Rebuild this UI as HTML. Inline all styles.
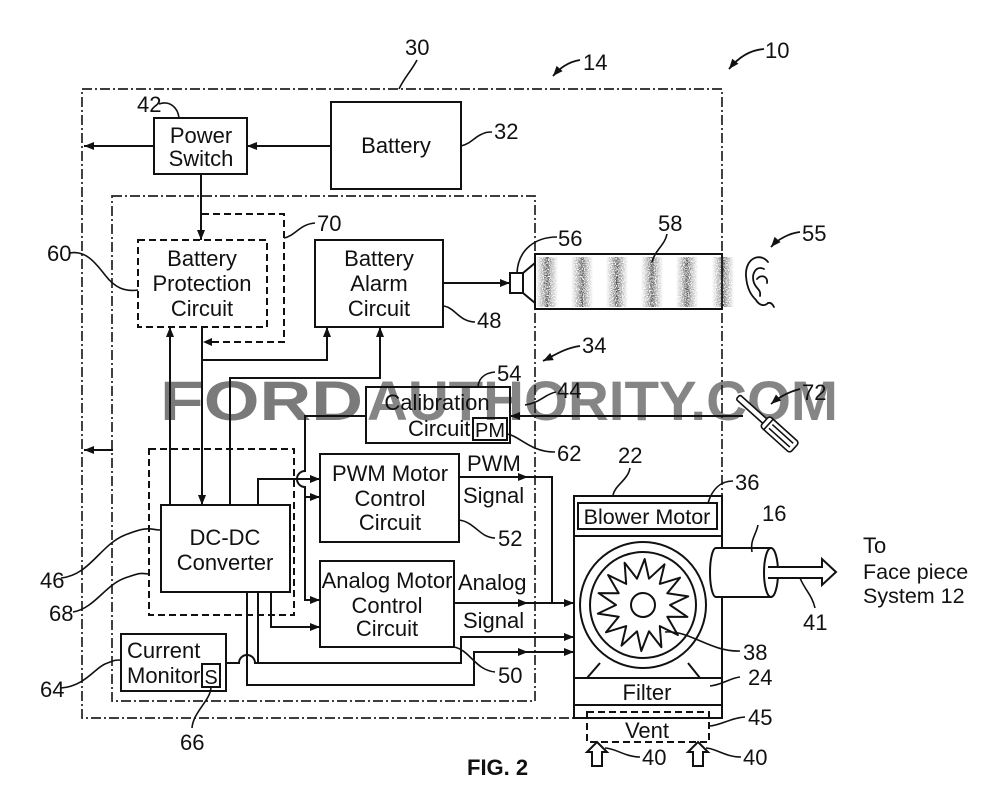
<!DOCTYPE html>
<html><head><meta charset="utf-8"><style>html,body{margin:0;padding:0;background:#fff}svg{display:block}</style></head>
<body>
<svg width="997" height="799" viewBox="0 0 997 799" xmlns="http://www.w3.org/2000/svg" font-family="'Liberation Sans', Arial, sans-serif" font-size="22">
<defs>
  <marker id="ah" viewBox="0 0 10 8" refX="10" refY="4" markerWidth="11" markerHeight="8" markerUnits="userSpaceOnUse" orient="auto"><path d="M0,0 L10,4 L0,8 Z" fill="#111"/></marker>
  <linearGradient id="sg" x1="0" x2="1" y1="0" y2="0">
    <stop offset="0" stop-color="#555" stop-opacity="0"/>
    <stop offset="0.3" stop-color="#555" stop-opacity="0.55"/>
    <stop offset="0.5" stop-color="#333" stop-opacity="0.95"/>
    <stop offset="0.7" stop-color="#555" stop-opacity="0.55"/>
    <stop offset="1" stop-color="#555" stop-opacity="0"/>
  </linearGradient>
  <filter id="spk" x="0" y="0" width="1" height="1">
    <feTurbulence type="fractalNoise" baseFrequency="0.85" numOctaves="2" seed="5" result="n"/>
    <feComponentTransfer in="n" result="t"><feFuncA type="discrete" tableValues="0 0 0.6 1 1"/></feComponentTransfer>
    <feComposite in="SourceGraphic" in2="t" operator="in"/>
  </filter>
</defs>
<rect width="997" height="799" fill="#fff"/>

<!-- watermark -->
<text x="160" y="420" font-size="56" font-weight="bold" fill="#7a7a7a" textLength="203" lengthAdjust="spacingAndGlyphs">FORD</text>
<text x="367" y="420" font-size="56" font-weight="bold" fill="#858585" textLength="471" lengthAdjust="spacingAndGlyphs">AUTHORITY.COM</text>

<!-- dash-dot boxes -->
<g fill="none" stroke="#222" stroke-width="1.7" stroke-dasharray="10 3 2 3">
  <rect x="82" y="89" width="640" height="629"/>
  <rect x="112" y="196" width="423" height="505"/>
</g>

<!-- dashed boxes -->
<g fill="none" stroke="#111" stroke-width="2" stroke-dasharray="7 4">
  <rect x="138" y="240" width="129" height="87"/>
  <path d="M202,214 H284 V342 H212"/>
  <rect x="149" y="449" width="145" height="166"/>
  <rect x="587" y="712" width="122" height="30"/>
</g>
<path d="M212,338 L203,342 L212,346 Z" fill="#111"/>

<!-- solid boxes -->
<g fill="none" stroke="#111" stroke-width="2">
  <rect x="154" y="118" width="93" height="56"/>
  <rect x="331" y="102" width="130" height="87"/>
  <rect x="315" y="240" width="128" height="87"/>
  <rect x="366" y="387" width="144" height="56"/>
  <rect x="473" y="418" width="34" height="22"/>
  <rect x="161" y="505" width="129" height="87"/>
  <rect x="320" y="454" width="139" height="88"/>
  <rect x="320" y="561" width="134" height="86"/>
  <rect x="121" y="634" width="105" height="57"/>
  <rect x="202" y="664" width="18" height="23"/>
  <!-- blower -->
  <rect x="574" y="496" width="148" height="222"/>
  <rect x="578" y="503" width="139" height="26"/>
  <line x1="574" y1="536" x2="722" y2="536"/>
  <line x1="574" y1="678" x2="722" y2="678"/>
  <line x1="574" y1="705" x2="722" y2="705"/>
  <circle cx="643" cy="605" r="63"/>
  <circle cx="643" cy="605" r="53"/>
  <circle cx="643" cy="605" r="12"/>
  <path d="M670,605 L687.4,616.9 L667.3,616.7 L677.9,635 L659.8,626.1 L661.4,647.2 L649,631.3 L641.3,651 L637,631.3 L621.5,645.7 L626.2,626.1 L606,632.3 L618.7,616.7 L597.8,613.6 L616,605 L598.6,593.1 L618.7,593.3 L608.1,575 L626.2,583.9 L624.6,562.8 L637,578.7 L644.7,559 L649,578.7 L664.5,564.3 L659.8,583.9 L680,577.7 L667.3,593.3 L688.2,596.4 Z" stroke-linejoin="round"/>
  <path d="M587,678 L600,663 M700,678 L688,663"/>
</g>

<!-- outlet cylinder -->
<g stroke="#111" stroke-width="2">
  <path d="M716,548 H771 V597 H716 Z" fill="#fff" stroke="none"/>
  <path d="M716,548 H771 M716,597 H771" fill="none"/>
  <path d="M716,548 A6,24.5 0 0 0 716,597" fill="none"/>
  <ellipse cx="771" cy="572.5" rx="7" ry="24.5" fill="#fff"/>
  <path d="M768,567 H822 V559 L836,572 L822,585 V578 H768" fill="#fff"/>
  <!-- up arrows -->
  <path d="M597,742 L607,752 H602 V766 H592 V752 H587 Z" fill="#fff"/>
  <path d="M698,742 L708,752 H703 V766 H693 V752 H688 Z" fill="#fff"/>
</g>

<!-- speaker and tube -->
<g fill="none" stroke="#111" stroke-width="2">
  <rect x="510" y="273" width="13" height="20"/>
  <path d="M523,273 L535,263 M523,293 L535,303"/>
  <rect x="535" y="254" width="187" height="55"/>
</g>
<g filter="url(#spk)">
  <rect x="536" y="257" width="22" height="50" fill="url(#sg)"/>
  <rect x="571" y="257" width="22" height="50" fill="url(#sg)"/>
  <rect x="606" y="257" width="22" height="50" fill="url(#sg)"/>
  <rect x="641" y="257" width="22" height="50" fill="url(#sg)"/>
  <rect x="676" y="257" width="22" height="50" fill="url(#sg)"/>
  <rect x="712" y="257" width="22" height="50" fill="url(#sg)"/>
</g>

<!-- ear -->
<g fill="none" stroke="#111" stroke-width="1.8" stroke-linecap="round">
  <path d="M768,262 C760,252 745,258 746,276 C747,290 752,296 756,300 C759,305 764,307 768,303"/>
  <path d="M764,269 C756,265 751,274 754,283 C757,290 761,289 760,296"/>
  <path d="M757,279 C761,274 768,276 767,283"/>
  <path d="M768,303 C771,302 773,305 774,307"/>
</g>

<!-- screwdriver -->
<g transform="translate(738,397) rotate(42)" fill="#fff" stroke="#111" stroke-width="1.6">
  <rect x="0" y="-3" width="37" height="6" rx="2"/>
  <rect x="36" y="-7" width="40" height="14" rx="3"/>
  <line x1="41" y1="-7" x2="41" y2="7"/>
  <line x1="44" y1="-2.5" x2="72" y2="-2.5"/>
  <line x1="44" y1="2.5" x2="72" y2="2.5"/>
</g>

<!-- connectors -->
<g fill="none" stroke="#111" stroke-width="2">
  <path d="M331,146 H247" marker-end="url(#ah)"/>
  <path d="M154,146 H84" marker-end="url(#ah)"/>
  <path d="M201,174 V240" marker-end="url(#ah)"/>
  <path d="M443,283 H510" marker-end="url(#ah)"/>
  <path d="M113,450 H84" marker-end="url(#ah)"/>
  <path d="M170,505 V327" marker-end="url(#ah)"/>
  <path d="M202,327 V505" marker-end="url(#ah)"/>
  <path d="M202,360 H327 V327" marker-end="url(#ah)"/>
  <path d="M230,505 V378 H380 V327" marker-end="url(#ah)"/>
  <path d="M743,416 H510" marker-end="url(#ah)"/>
  <path d="M366,416 H305 V471 A8,8 0 0 0 305,487 V600 H320" marker-end="url(#ah)"/>
  <path d="M305,497 H320" marker-end="url(#ah)"/>
  <path d="M258,505 V479 H320" marker-end="url(#ah)"/>
  <path d="M271,592 V627 H320" marker-end="url(#ah)"/>
  <path d="M226,663 H239 A8,8 0 0 1 255,663 H258"/>
  <path d="M258,592 V663 H461 V637 H574" marker-end="url(#ah)"/>
  <path d="M247,592 V685 H474 V652 H528" marker-end="url(#ah)"/>
  <path d="M528,652 H574" marker-end="url(#ah)"/>
  <path d="M459,477 H528" marker-end="url(#ah)"/>
  <path d="M528,477 H552 V603"/>
  <path d="M454,603 H528" marker-end="url(#ah)"/>
  <path d="M528,603 H574" marker-end="url(#ah)"/>
  <!-- reference arrows -->
  <path d="M580,60 C568,62 560,68 553,76" marker-end="url(#ah)" stroke-width="1.8"/>
  <path d="M764,49 C750,50 738,58 729,69" marker-end="url(#ah)" stroke-width="1.8"/>
  <path d="M800,232 C790,233 778,239 771,247" marker-end="url(#ah)" stroke-width="1.8"/>
  <path d="M580,346 C565,348 555,355 543,361" marker-end="url(#ah)" stroke-width="1.8"/>
  <path d="M800,389 C788,392 778,398 771,404" marker-end="url(#ah)" stroke-width="1.8"/>
</g>

<!-- leader lines -->
<g fill="none" stroke="#111" stroke-width="1.6">
  <path d="M417,60 C412,70 404,78 399,89"/>
  <path d="M159,104 C170,100 178,108 179,118"/>
  <path d="M461,146 C470,144 474,138 480,135 S488,132 492,132"/>
  <path d="M284,238 C295,236 300,224 315,223"/>
  <path d="M70,253 C85,250 95,262 105,275 S125,292 138,290"/>
  <path d="M444,306 C455,308 460,322 475,322"/>
  <path d="M557,237 C535,237 518,250 517,273"/>
  <path d="M667,234 C665,245 655,250 652,262"/>
  <path d="M495,372 C483,373 478,380 478,388"/>
  <path d="M556,392 C545,394 540,403 525,405"/>
  <path d="M507,434 C520,436 530,452 555,452"/>
  <path d="M630,468 C628,480 615,485 613,495"/>
  <path d="M733,481 C720,481 712,490 708,503"/>
  <path d="M758,525 C756,535 750,540 752,552"/>
  <path d="M459,520 C475,522 480,538 495,538"/>
  <path d="M61,578 C90,575 100,545 125,535 S150,530 160,530"/>
  <path d="M73,612 C95,608 105,585 125,578 S140,574 149,574"/>
  <path d="M815,608 C812,595 805,590 800,578"/>
  <path d="M740,651 C710,652 690,630 665,632"/>
  <path d="M454,647 C470,650 475,670 495,672"/>
  <path d="M740,677 C730,678 722,685 710,686"/>
  <path d="M61,688 C85,686 95,668 105,664 S115,660 121,660"/>
  <path d="M745,717 C730,718 722,725 710,726"/>
  <path d="M211,687 C211,700 193,712 192,728"/>
  <path d="M640,757 C625,757 615,748 605,748"/>
  <path d="M741,757 C725,757 715,748 706,748"/>
</g>

<!-- box text -->
<g fill="#111" text-anchor="middle">
  <text x="201" y="143">Power</text>
  <text x="201" y="166">Switch</text>
  <text x="396" y="153">Battery</text>
  <text x="202" y="266">Battery</text>
  <text x="202" y="291">Protection</text>
  <text x="202" y="316">Circuit</text>
  <text x="379" y="266">Battery</text>
  <text x="379" y="291">Alarm</text>
  <text x="379" y="316">Circuit</text>
  <text x="437" y="410">Calibration</text>
  <text x="490" y="437" font-size="20">PM</text>
  <text x="225" y="545">DC-DC</text>
  <text x="225" y="570">Converter</text>
  <text x="390" y="481">PWM Motor</text>
  <text x="390" y="506">Control</text>
  <text x="390" y="530">Circuit</text>
  <text x="387" y="588">Analog Motor</text>
  <text x="387" y="613">Control</text>
  <text x="387" y="636">Circuit</text>
  <text x="211" y="684" font-size="20">S</text>
  <text x="647" y="524" font-size="21.5">Blower Motor</text>
  <text x="647" y="700">Filter</text>
  <text x="647" y="738">Vent</text>
</g>
<g fill="#111">
  <text x="408" y="436">Circuit</text>
  <text x="127" y="658">Current</text>
  <text x="127" y="683">Monitor</text>
  <text x="467" y="471">PWM</text>
  <text x="463" y="503">Signal</text>
  <text x="458" y="590">Analog</text>
  <text x="463" y="628">Signal</text>
  <text x="863" y="553">To</text>
  <text x="863" y="579" font-size="21.5">Face piece</text>
  <text x="863" y="603" font-size="21.5">System 12</text>
  <text x="467" y="775" font-weight="bold">FIG. 2</text>
  <!-- reference numerals -->
  <text x="405" y="55">30</text>
  <text x="583" y="70">14</text>
  <text x="765" y="58">10</text>
  <text x="137" y="112">42</text>
  <text x="494" y="139">32</text>
  <text x="317" y="231">70</text>
  <text x="47" y="261">60</text>
  <text x="477" y="328">48</text>
  <text x="558" y="246">56</text>
  <text x="658" y="231">58</text>
  <text x="802" y="241">55</text>
  <text x="582" y="353">34</text>
  <text x="497" y="381">54</text>
  <text x="557" y="398">44</text>
  <text x="802" y="400">72</text>
  <text x="557" y="461">62</text>
  <text x="618" y="463">22</text>
  <text x="735" y="490">36</text>
  <text x="762" y="521">16</text>
  <text x="498" y="546">52</text>
  <text x="40" y="588">46</text>
  <text x="49" y="621">68</text>
  <text x="803" y="630">41</text>
  <text x="743" y="660">38</text>
  <text x="498" y="683">50</text>
  <text x="748" y="685">24</text>
  <text x="40" y="697">64</text>
  <text x="748" y="725">45</text>
  <text x="180" y="750">66</text>
  <text x="642" y="765">40</text>
  <text x="743" y="765">40</text>
</g>
</svg>
</body></html>
